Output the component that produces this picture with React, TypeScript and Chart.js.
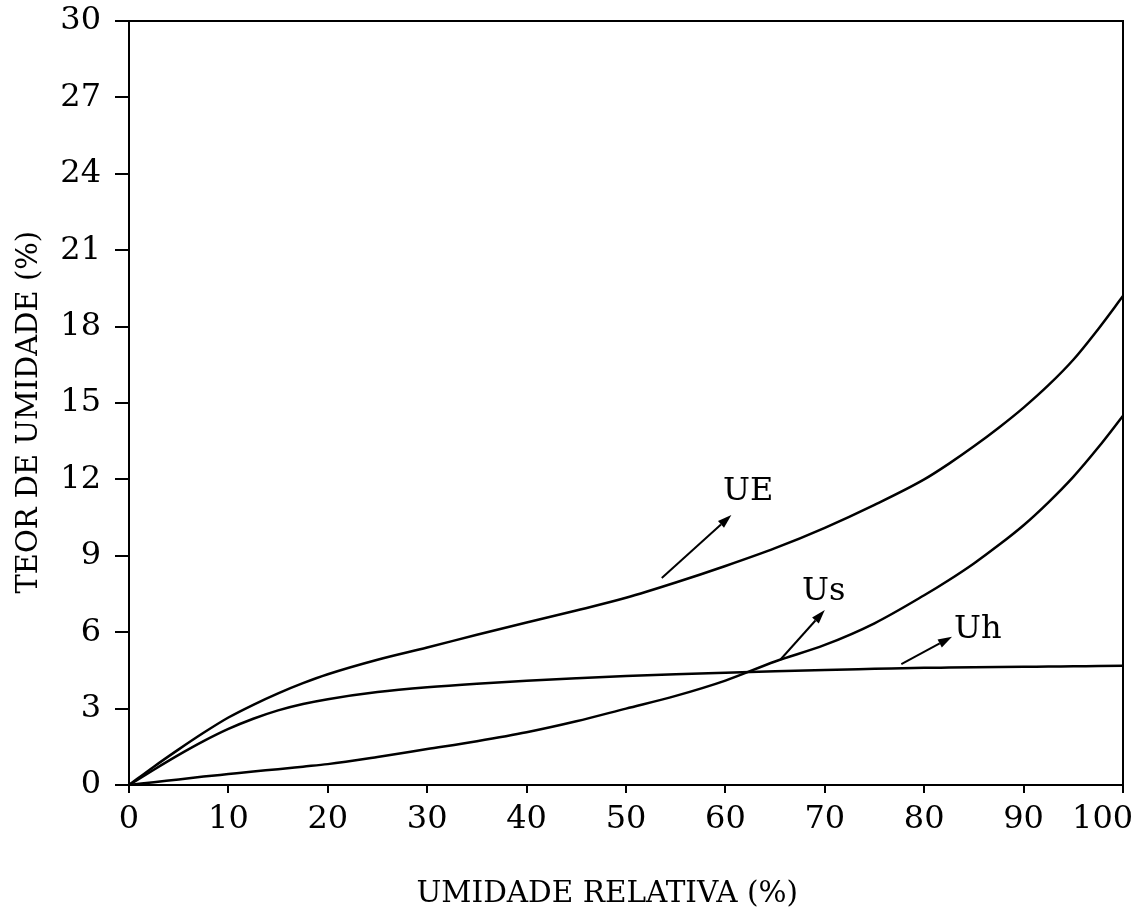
import React, { useEffect, useRef } from "react";
import { Chart, registerables } from "chart.js";

Chart.register(...registerables);

// Relative humidity (%)
const humidity = [0, 2.5, 5, 7.5, 10, 12.5, 15, 17.5, 20, 25, 30, 35, 40, 45, 50, 55, 60, 65, 70, 75, 80, 82.5, 85, 87.5, 90, 92.5, 95, 97.5, 100];
// UE curve (%)
const ueValues = [0, 0.72, 1.4, 2.05, 2.65, 3.15, 3.6, 4.0, 4.35, 4.92, 5.4, 5.9, 6.38, 6.85, 7.35, 7.95, 8.6, 9.3, 10.1, 11.0, 12.0, 12.62, 13.3, 14.03, 14.82, 15.7, 16.7, 17.9, 19.2];
// Uh curve (%)
const uhValues = [0, 0.6, 1.18, 1.72, 2.2, 2.6, 2.93, 3.18, 3.37, 3.65, 3.84, 3.98, 4.09, 4.19, 4.28, 4.35, 4.41, 4.47, 4.52, 4.56, 4.6, 4.61, 4.62, 4.63, 4.64, 4.65, 4.66, 4.67, 4.68];
// Us curve (%)
const usValues = [0, 0.11, 0.22, 0.33, 0.43, 0.53, 0.62, 0.72, 0.82, 1.1, 1.41, 1.72, 2.07, 2.5, 3.0, 3.5, 4.1, 4.85, 5.5, 6.35, 7.45, 8.05, 8.7, 9.42, 10.2, 11.1, 12.1, 13.25, 14.5];

const xTicks = [0, 10, 20, 30, 40, 50, 60, 70, 80, 90, 100];
const yTicks = [0, 3, 6, 9, 12, 15, 18, 21, 24, 27, 30];

// Curve labels and their arrows (data units)
const labelNames = ["UE", "Us", "Uh"];
const labelX = [62.3, 69.9, 85.4];
const labelY = [11.5, 7.6, 6.1];
const arrowFromX = [53.6, 65.5, 77.7];
const arrowFromY = [8.13, 4.91, 4.75];
const arrowToX = [60.6, 70.0, 82.8];
const arrowToY = [10.6, 6.87, 5.82];

const FONT = "'DejaVu Serif', 'Liberation Serif', serif";
const NB = "\u00a0";

const toPoints = (vals: number[]) => humidity.map((h, i) => ({ x: h, y: vals[i] }));

const framePlugin = {
  id: "frame",
  afterDraw(chart: any) {
    const { ctx, chartArea } = chart;
    const xs = chart.scales.x;
    const ys = chart.scales.y;
    ctx.save();
    ctx.strokeStyle = "#000";
    ctx.lineWidth = 2;
    ctx.beginPath();
    ctx.moveTo(chartArea.left - 14, chartArea.top);
    ctx.lineTo(chartArea.right, chartArea.top);
    ctx.lineTo(chartArea.right, chartArea.bottom);
    ctx.stroke();

    // annotations
    ctx.fillStyle = "#000";
    ctx.font = `32px ${FONT}`;
    ctx.textAlign = "center";
    ctx.textBaseline = "middle";
    for (let i = 0; i < labelNames.length; i++) {
      ctx.fillText(labelNames[i], xs.getPixelForValue(labelX[i]), ys.getPixelForValue(labelY[i]));
      const x1 = xs.getPixelForValue(arrowFromX[i]);
      const y1 = ys.getPixelForValue(arrowFromY[i]);
      const x2 = xs.getPixelForValue(arrowToX[i]);
      const y2 = ys.getPixelForValue(arrowToY[i]);
      const ang = Math.atan2(y2 - y1, x2 - x1);
      const headLen = 14;
      const headW = 4.5;
      const bx = x2 - headLen * Math.cos(ang);
      const by = y2 - headLen * Math.sin(ang);
      ctx.lineWidth = 2;
      ctx.beginPath();
      ctx.moveTo(x1, y1);
      ctx.lineTo(bx, by);
      ctx.stroke();
      ctx.beginPath();
      ctx.moveTo(x2, y2);
      ctx.lineTo(bx + headW * Math.sin(ang), by - headW * Math.cos(ang));
      ctx.lineTo(bx - headW * Math.sin(ang), by + headW * Math.cos(ang));
      ctx.closePath();
      ctx.fill();
    }
    ctx.restore();
  },
};

export default function App() {
  const ref = useRef<HTMLCanvasElement | null>(null);
  useEffect(() => {
    if (!ref.current) return;
    const lineDs = (label: string, vals: number[]) => ({
      label,
      data: toPoints(vals),
      borderColor: "#000",
      borderWidth: 2.5,
      pointRadius: 0,
      fill: false,
      cubicInterpolationMode: "monotone" as const,
    });
    const chart = new Chart(ref.current, {
      type: "line",
      data: {
        datasets: [lineDs("UE", ueValues), lineDs("Uh", uhValues), lineDs("Us", usValues)],
      },
      options: {
        responsive: false,
        animation: false,
        devicePixelRatio: 1,
        layout: { padding: { left: 0, top: 21, right: 13, bottom: 0 } },
        plugins: { legend: { display: false }, tooltip: { enabled: false } },
        scales: {
          x: {
            type: "linear",
            min: 0,
            max: 100,
            afterBuildTicks: (s: any) => {
              s.ticks = xTicks.map((v) => ({ value: v }));
            },
            afterFit: (s: any) => {
              s.height = 127;
              s.paddingLeft = 0;
              s.paddingRight = 0;
            },
            ticks: {
              color: "#000",
              font: { family: FONT, size: 32 },
              padding: 7,
              maxRotation: 0,
              autoSkip: false,
              callback: (v: any) => (v === 100 ? `${v}${NB}${NB}${NB}${NB}` : `${v}`),
            },
            grid: { display: true, drawOnChartArea: false, drawTicks: true, tickLength: 8, color: "#000", lineWidth: 2 },
            border: { display: true, color: "#000", width: 2 },
            title: {
              display: true,
              text: `UMIDADE RELATIVA (%)${NB}${NB}${NB}${NB}`,
              color: "#000",
              font: { family: FONT, size: 29.5 },
              padding: { top: 0, bottom: 0 },
            },
          },
          y: {
            type: "linear",
            min: 0,
            max: 30,
            afterBuildTicks: (s: any) => {
              s.ticks = yTicks.map((v) => ({ value: v }));
            },
            afterFit: (s: any) => {
              s.width = 129;
              s.paddingTop = 0;
              s.paddingBottom = 0;
            },
            ticks: { color: "#000", font: { family: FONT, size: 32 }, padding: 14, autoSkip: false },
            grid: { display: true, drawOnChartArea: false, drawTicks: true, tickLength: 14, color: "#000", lineWidth: 2 },
            border: { display: true, color: "#000", width: 2 },
            title: {
              display: true,
              text: `TEOR DE UMIDADE (%)${NB}${NB}`,
              color: "#000",
              font: { family: FONT, size: 29 },
              padding: { top: 12, bottom: 0 },
            },
          },
        },
      },
      plugins: [framePlugin],
    });
    return () => chart.destroy();
  }, []);
  return (
    <canvas
      ref={ref}
      width={1136}
      height={912}
      style={{ position: "absolute", left: 0, top: 0, display: "block", background: "#fff" }}
    />
  );
}
